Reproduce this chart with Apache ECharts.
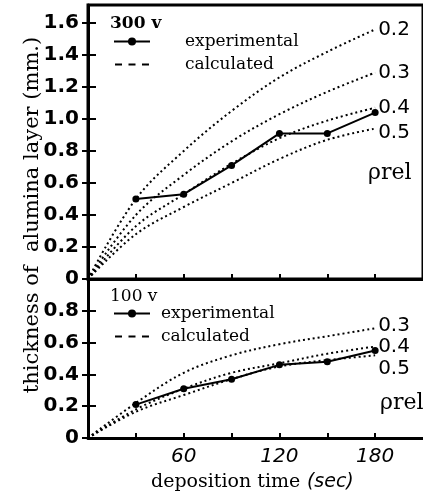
<!DOCTYPE html>
<html>
<head>
<meta charset="utf-8">
<script src="https://cdn.jsdelivr.net/npm/echarts@6/dist/echarts.min.js"></script>
<style>
html,body{margin:0;padding:0;background:#fff;}
#chart{width:423px;height:498px;}
</style>
</head>
<body>
<div id="chart"></div>
<script>
// ---- data ----
const calcTimes = [0, 30, 60, 90, 120, 150, 180];
const expTimes = [30, 60, 90, 120, 150, 180];

const exp300 = [0.50, 0.53, 0.71, 0.91, 0.91, 1.04];
const calc300_02 = [0, 0.50, 0.80, 1.05, 1.26, 1.42, 1.56];
const calc300_03 = [0, 0.40, 0.65, 0.86, 1.03, 1.17, 1.29];
const calc300_04 = [0, 0.33, 0.53, 0.72, 0.88, 0.99, 1.07];
const calc300_05 = [0, 0.28, 0.45, 0.60, 0.75, 0.87, 0.94];

const exp100 = [0.21, 0.31, 0.37, 0.46, 0.48, 0.55];
const calc100_03 = [0, 0.22, 0.41, 0.52, 0.59, 0.64, 0.69];
const calc100_04 = [0, 0.18, 0.31, 0.41, 0.47, 0.53, 0.575];
const calc100_05 = [0, 0.165, 0.27, 0.37, 0.45, 0.49, 0.52];

const yTicksTop = [0, 0.2, 0.4, 0.6, 0.8, 1.0, 1.2, 1.4, 1.6];
const yTicksBottom = [0, 0.2, 0.4, 0.6, 0.8];
const xTicks = [30, 60, 90, 120, 150, 180];
const xLabels = [60, 120, 180];

// ---- chart ----
const pairs = (xs, ys) => xs.map((x, i) => [x, ys[i]]);
const numFont = 'DejaVu Sans';
const serif = 'DejaVu Serif';
const dashIcon = 'path://M0,4h7v2h-7z M13.5,4h7v2h-7z M27,4h7v2h-7z M0,0h0.01v0.01h-0.01z M0,10h0.01v0.01h-0.01z';

function calcSeries(name, xi, data, offset) {
  return {
    name: name, type: 'line', xAxisIndex: xi, yAxisIndex: xi * 2,
    data: pairs(calcTimes, data), smooth: 0.35, symbol: 'none', silent: true,
    lineStyle: { color: '#000', width: 2, type: [2, 3] },
    endLabel: { show: true, formatter: name, color: '#000', fontFamily: numFont, fontSize: 20, distance: 3, offset: offset || [0, 0] }
  };
}
function expSeries(xi, data) {
  return {
    name: 'experimental', type: 'line', xAxisIndex: xi, yAxisIndex: xi * 2,
    data: pairs(expTimes, data), symbol: 'circle', symbolSize: 7,
    itemStyle: { color: '#000' }, lineStyle: { color: '#000', width: 2 }
  };
}
function yAxes(gi, max, ticks, labels) {
  return [{
    type: 'value', gridIndex: gi, min: 0, max: max,
    axisLine: { show: true, lineStyle: { color: '#000', width: 3 } },
    axisTick: { show: true, inside: false, length: 6, customValues: ticks, lineStyle: { color: '#000', width: 2 } },
    axisLabel: { customValues: labels, color: '#000', fontFamily: numFont, fontSize: 20, fontWeight: 'bold', margin: 9,
      formatter: v => v === 0 ? '0' : v.toFixed(1) },
    splitLine: { show: false }
  }, {
    type: 'value', gridIndex: gi, min: 0, max: max, position: 'left',
    axisLine: { show: false },
    axisTick: { show: true, inside: true, length: 8, customValues: ticks, lineStyle: { color: '#000', width: 2 } },
    axisLabel: { show: false }, splitLine: { show: false }
  }];
}
function xAxis(gi, showLabels) {
  return {
    type: 'value', gridIndex: gi, min: 0, max: 210,
    axisLine: { show: true, onZero: false, lineStyle: { color: '#000', width: 3 } },
    axisTick: { show: true, inside: true, length: 5, customValues: xTicks, lineStyle: { color: '#000', width: 2 } },
    axisLabel: { show: showLabels, customValues: xLabels, color: '#000', fontFamily: numFont, fontStyle: 'italic', fontSize: 20, margin: 9 },
    splitLine: { show: false }
  };
}
const legendData = ['experimental', { name: 'calculated', icon: dashIcon }];

const chart = echarts.init(document.getElementById('chart'));
chart.setOption({
  animation: false,
  backgroundColor: '#fff',
  grid: [
    { left: 88, right: -2, top: 5, height: 274, show: true, borderColor: '#000', borderWidth: 3 },
    { left: 88, right: -2, top: 279, height: 159 }
  ],
  xAxis: [xAxis(0, false), xAxis(1, true)],
  yAxis: [].concat(yAxes(0, 1.7125, yTicksTop, yTicksTop), yAxes(1, 1.0, yTicksBottom, yTicksBottom)),
  title: [
    { text: '300 v', left: 105, top: 10, textStyle: { fontFamily: serif, fontSize: 17, fontWeight: 'bold', color: '#000' } },
    { text: '100 v', left: 105, top: 283, textStyle: { fontFamily: serif, fontSize: 17, fontWeight: 'normal', color: '#000' } }
  ],
  legend: [
    { left: 108, top: 28, orient: 'vertical', itemGap: 6, itemWidth: 36, itemHeight: 10,
      data: legendData, selectedMode: false,
      textStyle: { fontFamily: serif, fontSize: 17, color: '#000', padding: [0, 0, 0, 30] } },
    { left: 108, top: 300, orient: 'vertical', itemGap: 6, itemWidth: 36, itemHeight: 10,
      data: legendData, selectedMode: false,
      textStyle: { fontFamily: serif, fontSize: 17, color: '#000', padding: [0, 0, 0, 6] } }
  ],
  series: [
    calcSeries('0.2', 0, calc300_02),
    calcSeries('0.3', 0, calc300_03),
    calcSeries('0.4', 0, calc300_04),
    calcSeries('0.5', 0, calc300_05, [0, 4]),
    expSeries(0, exp300),
    calcSeries('0.3', 1, calc100_03, [0, -2]),
    calcSeries('0.4', 1, calc100_04, [0, 0]),
    calcSeries('0.5', 1, calc100_05, [0, 13]),
    expSeries(1, exp100),
    { name: 'calculated', type: 'line', xAxisIndex: 0, yAxisIndex: 0, data: [], symbol: 'none',
      lineStyle: { color: '#000', width: 2, type: [7, 5] }, itemStyle: { color: '#000' } }
  ],
  graphic: [
    { type: 'text', left: 368, top: 162, style: { text: 'ρrel', fontFamily: serif, fontSize: 22, fill: '#000' } },
    { type: 'text', left: 380, top: 392, style: { text: 'ρrel', fontFamily: serif, fontSize: 22, fill: '#000' } },
    { type: 'text', x: 33, y: 215, rotation: Math.PI / 2,
      style: { text: 'thickness of  alumina layer (mm.)', fontFamily: serif, fontSize: 21, fill: '#000', align: 'center', verticalAlign: 'middle' } },
    { type: 'text', left: 151, top: 473,
      style: { rich: { a: { fontFamily: serif, fontSize: 19, fill: '#000' }, b: { fontFamily: numFont, fontStyle: 'italic', fontSize: 19, fill: '#000' } },
        text: '{a|deposition time}  {b|(sec)}' } }
  ]
});
</script>
</body>
</html>
